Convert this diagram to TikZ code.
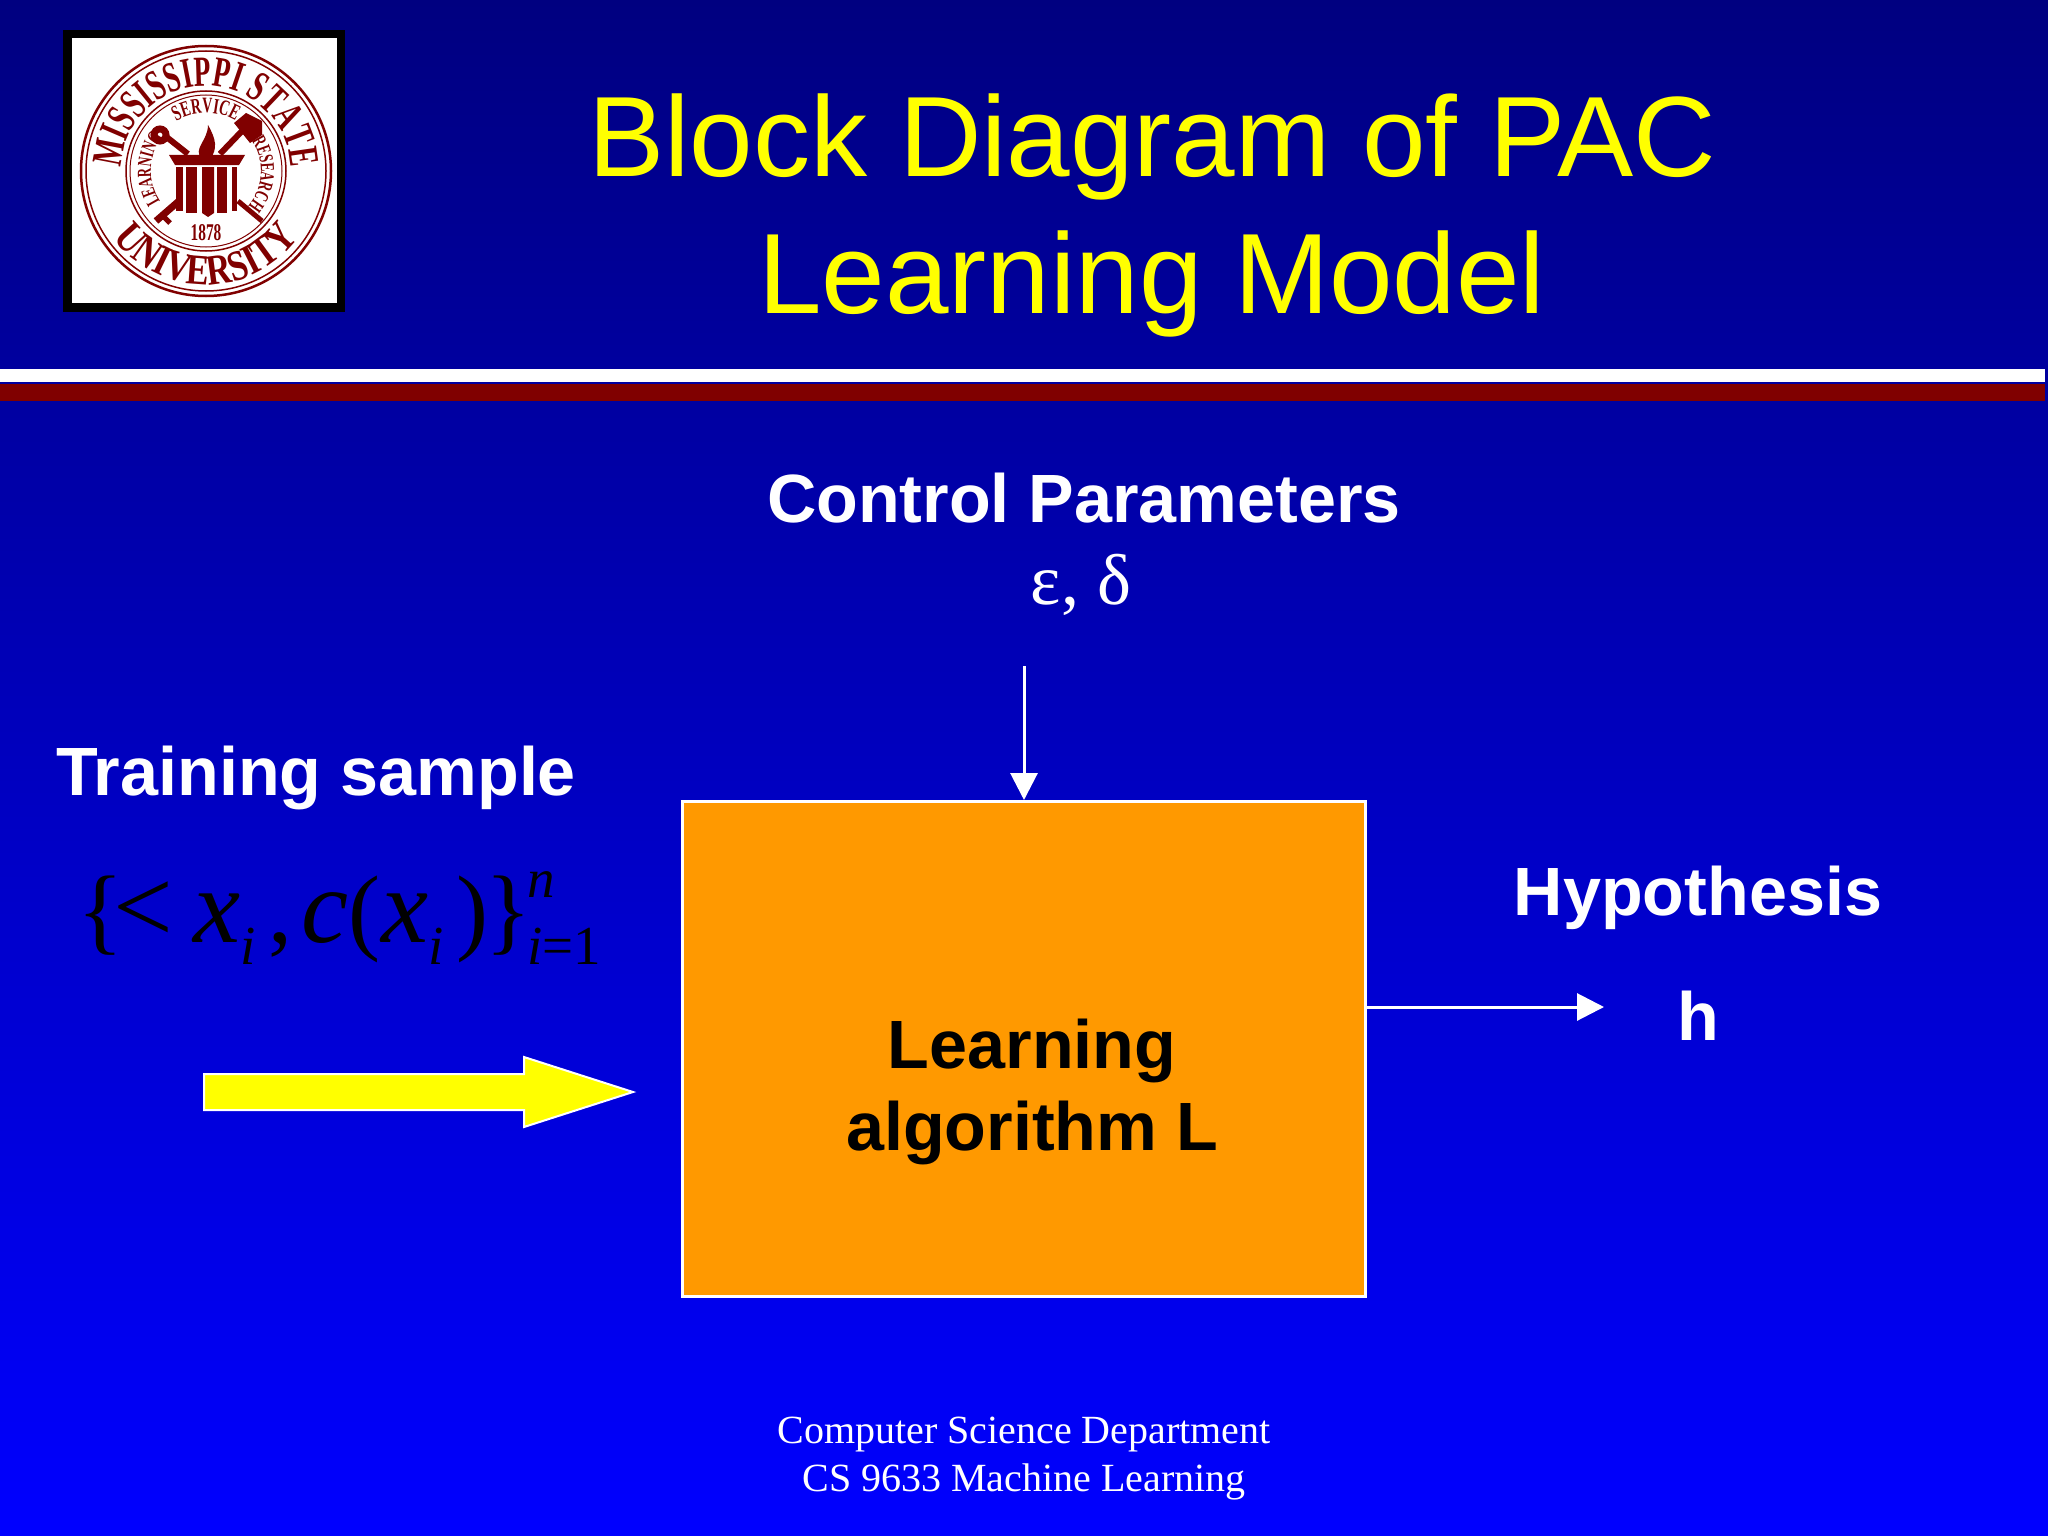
\documentclass[tikz,border=0pt]{standalone}
\usepackage{fontspec}
\setmainfont{Liberation Sans}
\newfontfamily\timesfont{Liberation Serif}
\newfontfamily\sealfont[FakeStretch=0.64]{Liberation Serif}
\newfontfamily\sealwide[FakeStretch=0.8]{Liberation Serif}
\usetikzlibrary{arrows.meta,decorations.text}
\definecolor{topblue}{RGB}{0,0,128}
\definecolor{botblue}{RGB}{0,0,255}
\definecolor{maroon}{RGB}{128,0,0}
\definecolor{boxorange}{RGB}{255,153,0}
\definecolor{pureyellow}{RGB}{255,255,0}
\newcommand{\fsize}[1]{\fontsize{#1}{#1}\selectfont}
\newcommand{\formpart}[3]{\rlap{\kern#1pt\raisebox{#2pt}{#3}}}
\newcommand{\smallpart}[1]{\fsize{55}\textit{#1}}
\newcommand{\bigpart}[1]{\fsize{106}#1}
\tikzset{
  titletext/.style={text=pureyellow,font=\fsize{114.2}},
  boldtext/.style={text=white,font=\fsize{68.3}\bfseries},
  foottext/.style={text=white,font=\timesfont\fsize{40},align=center},
  thinarrow/.style={draw=white,line width=3pt,-{Triangle[length=27pt,width=27pt,fill=white]}},
  sealtext/.style={decorate,decoration={text along path,text align=center,text={#1}}},
  sealfill/.style={fill=maroon,draw=none}
}
\begin{document}
\begin{tikzpicture}[x=1pt,y=-1pt]
  \useasboundingbox (0,0) rectangle (2048,1536);
  \shade[top color=topblue,bottom color=botblue] (0,0) rectangle (2048,1536);

  \fill[white] (0,369) rectangle (2045,382);
  \fill[maroon] (0,384) rectangle (2045,401);

  \draw (1152,147) node[titletext] (title1) {Block Diagram of PAC};
  \draw (1152,284) node[titletext] (title2) {Learning Model};

  \fill[black] (63,30) rectangle (345,312);
  \fill[white] (72,38) rectangle (337,303);
  \begin{scope}[shift={(206,171)},x=1pt,y=1pt]
    \draw[maroon,line width=2.5pt] (0,0) circle (125);
    \draw[maroon,line width=1.5pt] (0,0) circle (120);
    \draw[maroon,line width=1.5pt] (0,0) circle (80);
    \draw[maroon,line width=1pt] (0,0) circle (76);
    \path[sealtext={|\sealfont\fsize{43}\bfseries\color{maroon}|MISSISSIPPI STATE}] (270:85) arc[start angle=270,end angle=-90,radius=85];
    \path[sealtext={|\sealwide\fsize{43}\bfseries\color{maroon}|UNIVERSITY}] (90:114) arc[start angle=90,end angle=450,radius=114];
    \path[sealtext={|\sealfont\fsize{22}\bfseries\color{maroon}|SERVICE}] (270:58) arc[start angle=270,end angle=-90,radius=58];
    \path[sealtext={|\sealfont\fsize{20}\bfseries\color{maroon}|LEARNING}] (358:55) arc[start angle=358,end angle=-2,radius=55];
    \path[sealtext={|\sealfont\fsize{20}\bfseries\color{maroon}|RESEARCH}] (177:55) arc[start angle=177,end angle=-183,radius=55];
    \draw (0,-62) node[text=maroon,font=\sealfont\fsize{24}\bfseries] (year) {1878};
    \fill[sealfill] (-37,16) -- (39,16) -- (33,6) -- (-31,6) -- cycle;
    \fill[sealfill] (-30,4) rectangle (-23,-40);
    \fill[sealfill] (-20,4) rectangle (-9,-42);
    \fill[sealfill] (-4,4) -- (8,4) -- (8,-42) -- (2,-46) -- (-4,-42) -- cycle;
    \fill[sealfill] (11,4) rectangle (21,-42);
    \fill[sealfill] (26,4) rectangle (31,-40);
    \draw[maroon,line width=6pt] (-18,17) -- (-42,36);
    \draw[maroon,line width=7pt] (-46,36) circle (6);
    \draw[maroon,line width=6pt] (14,17) -- (36,40);
    \fill[sealfill] (28,48) -- (40,58) -- (56,50) -- (56,36) -- (44,28) -- cycle;
    \draw[maroon,line width=7pt] (-27,-30) -- (-50,-50);
    \draw[maroon,line width=5pt] (-44,-44) -- (-36,-52);
    \draw[maroon,line width=5pt] (32,-30) -- (56,-50);
    \fill[sealfill] (-4,12) .. controls (-14,22) and (2,30) .. (2,46) .. controls (10,32) and (12,22) .. (4,12) -- cycle;
  \end{scope}

  \draw (1084,498) node[boldtext] (ctrl) {Control Parameters};
  \draw (1081,585) node[text=white,font=\timesfont\fsize{72}] (eps) {ε, δ};
  \draw (316,778) node[boldtext] (train) {Training sample};
  \draw (1698,898) node[boldtext] (hyp) {Hypothesis};
  \draw (1698,1016) node[boldtext] (h) {h};

  \node[anchor=base west,inner sep=0pt,text=black,font=\timesfont\fsize{96}] (sample) at (87,942)
    {\hbox to 514pt{\formpart{-10}{0}{\{}\formpart{26}{0}{\bigpart{<}}\formpart{106}{0}{\bigpart{\textit{x}}}\formpart{153}{-22}{\smallpart{i}}\formpart{181}{0}{,}\formpart{214}{0}{\bigpart{\textit{c}}}\formpart{261}{0}{(}\formpart{294}{0}{\bigpart{\textit{x}}}\formpart{341}{-22}{\smallpart{i}}\formpart{369}{0}{)}\formpart{398}{0}{\}}\formpart{440}{45}{\smallpart{n}}\formpart{440}{-22}{\smallpart{i}\fsize{55}=1}\hfil}};

  \node[draw=white,line width=3pt,fill=boxorange,minimum width=683pt,minimum height=495pt,inner sep=0pt] (algo) at (1024,1049) {};
  \draw (1032,1092) node[text=black,font=\fsize{68.3}\bfseries,align=center] (algotext) {Learning\\[13pt]algorithm L};

  \draw[white,line width=2pt,fill=pureyellow] (204,1074) -- (524,1074) -- (524,1057) -- (633,1092) -- (524,1127) -- (524,1110) -- (204,1110) -- cycle;

  \coordinate (ctrlend) at (1024,666);
  \coordinate (hypend) at (1604,1007);
  \path (ctrlend) edge[thinarrow] (ctrlend |- algo.north);
  \path (algo.east |- hypend) edge[thinarrow] (hypend);

  \draw (1024,1434) node[foottext] (foot1) {Computer Science Department};
  \draw (1024,1482) node[foottext] (foot2) {CS 9633 Machine Learning};
\end{tikzpicture}
\end{document}
